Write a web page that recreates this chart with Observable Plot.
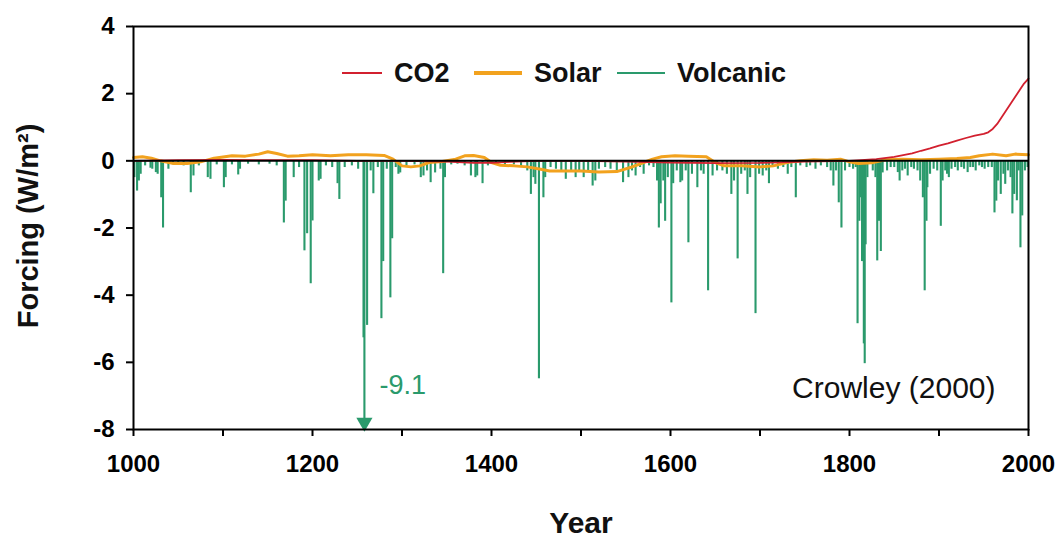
<!DOCTYPE html>
<html>
<head>
<meta charset="utf-8">
<script src="https://cdn.jsdelivr.net/npm/d3@7"></script>
<script src="https://cdn.jsdelivr.net/npm/@observablehq/plot@0.6"></script>
<style>
  body { margin: 0; background: #fff; font-family: "Liberation Sans", Arial, sans-serif; }
  #wrap { position: relative; width: 1059px; height: 537px; }
  #legend { position: absolute; left: 0; top: 0; width: 1059px; height: 100px; pointer-events: none; }
  .item { position: absolute; top: 57px; height: 32px; display: flex; align-items: center; font-weight: bold; font-size: 27px; color: #111; }
  .sw { display: inline-block; margin-right: 12px; }
</style>
</head>
<body>
<div id="wrap"></div>
<script>
// ---------- data ----------
const seriesNames = ["CO2", "Solar", "Volcanic"];
const seriesColors = ["#d2202f", "#f2a21e", "#2a9a6c"];

const co2Years  = [1000, 1050, 1100, 1150, 1200, 1250, 1300, 1350, 1380, 1400, 1420, 1450, 1500, 1550, 1600, 1650, 1700, 1750, 1800, 1830, 1850, 1870, 1880, 1890, 1900, 1910, 1920, 1930, 1940, 1950, 1955, 1960, 1965, 1970, 1975, 1980, 1985, 1990, 1995, 2000];
const co2Values = [0.0, 0.02, 0.03, 0.02, 0.02, 0.0, 0.0, -0.02, -0.06, -0.06, -0.03, 0.0, 0.0, -0.02, -0.05, -0.07, -0.06, -0.02, 0.0, 0.05, 0.12, 0.22, 0.3, 0.37, 0.45, 0.52, 0.6, 0.68, 0.75, 0.8, 0.85, 0.95, 1.1, 1.3, 1.5, 1.7, 1.9, 2.1, 2.3, 2.45];

const solarYears  = [1000, 1010, 1020, 1030, 1045, 1060, 1075, 1090, 1110, 1125, 1140, 1150, 1160, 1172, 1185, 1200, 1220, 1240, 1260, 1280, 1290, 1300, 1310, 1320, 1330, 1345, 1360, 1370, 1380, 1392, 1400, 1410, 1425, 1440, 1455, 1465, 1480, 1500, 1520, 1540, 1555, 1570, 1580, 1590, 1605, 1620, 1640, 1650, 1660, 1680, 1700, 1715, 1730, 1745, 1760, 1775, 1790, 1800, 1810, 1825, 1840, 1860, 1880, 1900, 1920, 1935, 1945, 1960, 1975, 1985, 2000];
const solarValues = [0.1, 0.12, 0.08, 0.0, -0.08, -0.08, -0.03, 0.08, 0.15, 0.14, 0.2, 0.27, 0.22, 0.14, 0.15, 0.18, 0.15, 0.18, 0.18, 0.16, 0.05, -0.15, -0.18, -0.15, -0.05, -0.02, 0.05, 0.15, 0.16, 0.1, -0.05, -0.13, -0.15, -0.18, -0.25, -0.3, -0.3, -0.3, -0.33, -0.32, -0.2, -0.05, 0.05, 0.12, 0.15, 0.14, 0.12, -0.05, -0.15, -0.15, -0.18, -0.15, -0.05, 0.0, 0.03, 0.02, 0.05, -0.03, -0.08, -0.06, 0.03, 0.05, 0.03, 0.05, 0.07, 0.1, 0.15, 0.2, 0.15, 0.2, 0.18];

const volcanicYears = [1001, 1004, 1006, 1008, 1013, 1019, 1021, 1025, 1027, 1031, 1033, 1039, 1044, 1050, 1056, 1064, 1067, 1073, 1083, 1086, 1093, 1101, 1103, 1110, 1117, 1119, 1128, 1140, 1152, 1160, 1168, 1170, 1179, 1185, 1191, 1194, 1198, 1200, 1207, 1209, 1215, 1222, 1228, 1230, 1236, 1244, 1251, 1257, 1258, 1261, 1265, 1268, 1273, 1277, 1279, 1283, 1287, 1289, 1293, 1296, 1298, 1305, 1314, 1321, 1324, 1328, 1332, 1337, 1343, 1346, 1348, 1355, 1362, 1370, 1377, 1382, 1384, 1390, 1396, 1405, 1415, 1425, 1433, 1440, 1444, 1447, 1449, 1453, 1458, 1460, 1466, 1472, 1478, 1483, 1489, 1494, 1498, 1503, 1508, 1513, 1516, 1520, 1527, 1533, 1540, 1547, 1553, 1557, 1561, 1566, 1570, 1576, 1581, 1585, 1587, 1589, 1592, 1594, 1597, 1601, 1603, 1607, 1611, 1613, 1617, 1620, 1624, 1630, 1634, 1637, 1642, 1647, 1652, 1658, 1663, 1668, 1671, 1675, 1679, 1683, 1686, 1689, 1695, 1699, 1703, 1707, 1710, 1714, 1720, 1726, 1731, 1735, 1740, 1745, 1752, 1756, 1762, 1768, 1775, 1779, 1782, 1785, 1788, 1791, 1795, 1800, 1804, 1807, 1809, 1811, 1812, 1814, 1816, 1817, 1818, 1820, 1826, 1829, 1831, 1833, 1835, 1837, 1842, 1846, 1850, 1854, 1856, 1859, 1862, 1865, 1869, 1872, 1876, 1879, 1882, 1884, 1886, 1887, 1890, 1894, 1898, 1902, 1904, 1907, 1909, 1911, 1914, 1918, 1921, 1925, 1928, 1932, 1935, 1938, 1941, 1945, 1948, 1951, 1955, 1959, 1962, 1964, 1966, 1969, 1972, 1974, 1977, 1980, 1982, 1984, 1987, 1989, 1991, 1993, 1996, 1999];
const volcanicValues = [-0.5, -0.9, -0.6, -0.4, -0.15, -0.22, -0.25, -0.35, -0.4, -1.1, -2.0, -0.25, -0.12, -0.1, -0.15, -0.95, -0.45, -0.15, -0.5, -0.55, -0.12, -0.8, -0.5, -0.12, -0.42, -0.25, -0.1, -0.12, -0.1, -0.15, -1.85, -1.2, -0.5, -0.2, -2.68, -2.17, -3.66, -1.79, -0.6, -0.55, -0.15, -0.2, -0.68, -1.15, -0.2, -0.15, -0.25, -5.27, -9.1, -4.9, -0.3, -0.98, -0.2, -4.7, -3.0, -0.25, -4.08, -2.32, -0.2, -0.4, -0.36, -0.15, -0.12, -0.5, -0.45, -0.3, -0.65, -0.36, -0.25, -3.36, -0.5, -0.12, -0.1, -0.15, -0.45, -0.5, -0.45, -0.68, -0.15, -0.12, -0.15, -0.12, -0.2, -0.3, -1.0, -0.5, -0.7, -6.49, -1.1, -0.5, -0.2, -0.25, -0.3, -0.55, -0.3, -0.5, -0.3, -0.5, -0.3, -0.75, -0.6, -0.25, -0.2, -0.25, -0.3, -0.65, -0.5, -0.3, -0.45, -0.2, -0.4, -0.15, -0.2, -0.6, -2.0, -1.28, -0.6, -1.8, -0.5, -4.23, -0.68, -0.3, -0.65, -0.6, -0.3, -2.44, -0.4, -0.8, -0.3, -0.4, -3.87, -0.45, -0.3, -0.3, -0.4, -1.0, -0.6, -2.92, -0.4, -0.3, -1.0, -0.5, -4.55, -0.4, -0.45, -0.3, -0.68, -0.2, -0.25, -0.2, -0.4, -0.2, -1.1, -0.15, -0.2, -0.15, -0.25, -0.15, -0.2, -0.3, -0.75, -0.3, -1.25, -2.0, -0.3, -0.2, -0.25, -0.2, -4.85, -1.8, -1.1, -3.0, -5.45, -6.04, -2.5, -0.5, -0.3, -0.5, -2.98, -1.8, -2.7, -0.36, -0.3, -0.2, -0.2, -0.35, -0.6, -0.3, -0.25, -0.45, -0.2, -0.25, -0.3, -0.6, -1.1, -3.87, -1.8, -0.8, -0.4, -0.25, -0.3, -1.95, -0.6, -0.3, -0.4, -0.5, -0.25, -0.2, -0.3, -0.2, -0.25, -0.35, -0.2, -0.2, -0.3, -0.15, -0.2, -0.25, -0.2, -0.2, -1.55, -1.2, -0.6, -1.0, -0.4, -0.7, -0.3, -0.5, -1.58, -1.0, -1.19, -0.3, -2.59, -1.64, -0.3, -0.2];

const xTicks = [1000, 1100, 1200, 1300, 1400, 1500, 1600, 1700, 1800, 1900, 2000];
const yTicks = [-8, -6, -4, -2, 0, 2, 4];
const sourceLabel = "Crowley (2000)";
const xTitle = "Year";
const yTitle = "Forcing (W/m²)";

// ---------- build ----------
const [RED, ORANGE, GREEN] = seriesColors;
const co2 = co2Years.map((year, i) => ({year, value: co2Values[i]}));
const solar = solarYears.map((year, i) => ({year, value: solarValues[i]}));
const volc = volcanicYears.map((year, i) => ({year, value: volcanicValues[i]}));
const yMin = d3.min(yTicks), yMax = d3.max(yTicks);
const offscale = volc.filter(d => d.value < yMin);

const FONT = "'Liberation Sans', Arial, sans-serif";

const chart = Plot.plot({
  width: 1059,
  height: 537,
  marginLeft: 133,
  marginRight: 31,
  marginTop: 26,
  marginBottom: 108,
  x: {domain: [d3.min(xTicks), d3.max(xTicks)]},
  y: {domain: [yMin, yMax]},
  style: {fontFamily: FONT, background: "white", color: "black", overflow: "visible"},
  marks: [
    Plot.ruleX(volc, {x: "year", y1: 0, y2: "value", stroke: GREEN, strokeWidth: 2.1, clip: true}),
    Plot.line(solar, {x: "year", y: "value", stroke: ORANGE, strokeWidth: 3}),
    Plot.line(co2, {x: "year", y: "value", stroke: RED, strokeWidth: 1.8}),
    Plot.ruleY([0], {stroke: "black", strokeWidth: 2}),
    Plot.dot(offscale, {x: "year", y: () => yMin, dy: -7, symbol: "triangle", rotate: 180, r: 6, fill: GREEN, stroke: "none"}),
    Plot.text(offscale, {x: "year", y: () => yMin, text: d => String(d.value), dx: 15, dy: -44, textAnchor: "start", lineAnchor: "middle", fill: GREEN, fontSize: 27}),
    Plot.text([sourceLabel], {frameAnchor: "bottom-right", dx: -33, dy: -41, textAnchor: "end", lineAnchor: "middle", fontSize: 30, fill: "#111"}),
    Plot.frame({stroke: "black", strokeWidth: 2}),
    Plot.axisX({ticks: xTicks, tickFormat: d => d % 200 === 0 ? String(d) : "", tickSize: 7, tickPadding: 18, strokeWidth: 2, fontSize: 24, fontWeight: "bold", label: null}),
    Plot.axisY({ticks: yTicks, tickFormat: d => String(d), tickSize: 7, tickPadding: 12, strokeWidth: 2, fontSize: 24, fontWeight: "bold", label: null}),
    Plot.text([xTitle], {frameAnchor: "bottom", dy: 94, textAnchor: "middle", lineAnchor: "middle", fontSize: 30, fontWeight: "bold", fill: "#111"}),
    Plot.text([yTitle], {frameAnchor: "left", dx: -105, dy: -2, rotate: -90, textAnchor: "middle", lineAnchor: "middle", fontSize: 29, fontWeight: "bold", fill: "#111"})
  ]
});

const wrap = document.getElementById("wrap");
wrap.appendChild(chart);

// legend (inside plot area, top)
const legend = document.createElement("div");
legend.id = "legend";
const legendLayout = [
  {left: 342, swW: 40, swH: 2},
  {left: 474, swW: 48, swH: 4},
  {left: 617, swW: 48, swH: 2}
];
seriesNames.forEach((name, i) => {
  const it = document.createElement("div");
  it.className = "item";
  it.style.left = legendLayout[i].left + "px";
  const sw = document.createElement("span");
  sw.className = "sw";
  sw.style.width = legendLayout[i].swW + "px";
  sw.style.height = legendLayout[i].swH + "px";
  sw.style.background = seriesColors[i];
  it.appendChild(sw);
  it.appendChild(document.createTextNode(name));
  legend.appendChild(it);
});
wrap.appendChild(legend);
</script>
</body>
</html>
